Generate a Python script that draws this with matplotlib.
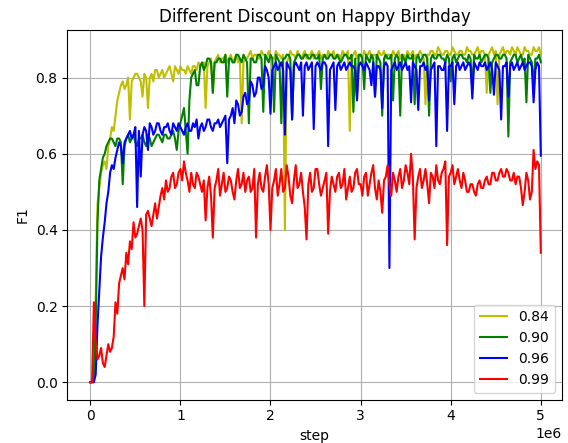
import numpy as np
import matplotlib
matplotlib.use("Agg")
import matplotlib.pyplot as plt

# training steps, one eval every 20k steps
steps = np.arange(251) * 20000

discounts = ["0.84", "0.90", "0.96", "0.99"]
colors = ["y", "g", "b", "r"]

f1_084 = [
    0.00, 0.00, 0.05, 0.22, 0.47, 0.51, 0.55, 0.57, 0.58, 0.56,
    0.62, 0.64, 0.67, 0.66, 0.70, 0.74, 0.76, 0.78, 0.79, 0.77,
    0.78, 0.80, 0.69, 0.79, 0.80, 0.81, 0.81, 0.80, 0.79, 0.75,
    0.81, 0.80, 0.72, 0.80, 0.81, 0.79, 0.82, 0.82, 0.80, 0.81,
    0.82, 0.80, 0.81, 0.82, 0.83, 0.81, 0.79, 0.83, 0.82, 0.81,
    0.83, 0.82, 0.82, 0.81, 0.83, 0.82, 0.81, 0.83, 0.83, 0.82,
    0.84, 0.83, 0.83, 0.84, 0.72, 0.83, 0.84, 0.85, 0.76, 0.84,
    0.85, 0.86, 0.84, 0.85, 0.85, 0.86, 0.84, 0.85, 0.86, 0.84,
    0.85, 0.86, 0.84, 0.85, 0.68, 0.84, 0.85, 0.85, 0.86, 0.87,
    0.85, 0.86, 0.86, 0.85, 0.85, 0.87, 0.86, 0.86, 0.85, 0.87,
    0.86, 0.85, 0.85, 0.87, 0.86, 0.86, 0.85, 0.86, 0.40, 0.84,
    0.85, 0.87, 0.86, 0.86, 0.85, 0.87, 0.86, 0.85, 0.86, 0.87,
    0.85, 0.86, 0.86, 0.87, 0.85, 0.86, 0.86, 0.87, 0.85, 0.86,
    0.86, 0.85, 0.87, 0.86, 0.86, 0.87, 0.85, 0.86, 0.86, 0.85,
    0.87, 0.86, 0.86, 0.87, 0.66, 0.85, 0.86, 0.87, 0.85, 0.86,
    0.86, 0.85, 0.87, 0.86, 0.86, 0.87, 0.85, 0.86, 0.86, 0.85,
    0.87, 0.86, 0.86, 0.87, 0.85, 0.86, 0.86, 0.85, 0.87, 0.86,
    0.86, 0.87, 0.85, 0.86, 0.86, 0.85, 0.87, 0.86, 0.86, 0.87,
    0.85, 0.86, 0.86, 0.87, 0.86, 0.85, 0.73, 0.86, 0.86, 0.87,
    0.87, 0.86, 0.86, 0.88, 0.87, 0.86, 0.86, 0.87, 0.87, 0.86,
    0.86, 0.88, 0.87, 0.86, 0.86, 0.87, 0.87, 0.86, 0.86, 0.88,
    0.87, 0.87, 0.86, 0.86, 0.87, 0.88, 0.86, 0.87, 0.87, 0.86,
    0.76, 0.86, 0.87, 0.88, 0.86, 0.87, 0.73, 0.86, 0.87, 0.88,
    0.86, 0.87, 0.87, 0.86, 0.88, 0.87, 0.86, 0.88, 0.87, 0.86,
    0.86, 0.88, 0.87, 0.87, 0.86, 0.86, 0.88, 0.87, 0.87, 0.88,
    0.86,
]

f1_090 = [
    0.00, 0.00, 0.02, 0.15, 0.42, 0.53, 0.56, 0.59, 0.60, 0.62,
    0.63, 0.64, 0.64, 0.63, 0.62, 0.64, 0.64, 0.63, 0.52, 0.62,
    0.64, 0.65, 0.63, 0.64, 0.65, 0.63, 0.62, 0.64, 0.64, 0.65,
    0.63, 0.62, 0.65, 0.64, 0.62, 0.63, 0.64, 0.65, 0.65, 0.64,
    0.63, 0.65, 0.65, 0.64, 0.64, 0.65, 0.66, 0.64, 0.61, 0.66,
    0.68, 0.70, 0.72, 0.66, 0.60, 0.74, 0.80, 0.81, 0.82, 0.78,
    0.78, 0.83, 0.84, 0.82, 0.83, 0.85, 0.85, 0.84, 0.76, 0.84,
    0.84, 0.85, 0.85, 0.84, 0.84, 0.86, 0.75, 0.85, 0.85, 0.84,
    0.84, 0.86, 0.86, 0.85, 0.84, 0.86, 0.85, 0.84, 0.68, 0.85,
    0.85, 0.84, 0.84, 0.86, 0.86, 0.85, 0.71, 0.86, 0.85, 0.84,
    0.86, 0.85, 0.71, 0.86, 0.85, 0.84, 0.68, 0.85, 0.85, 0.86,
    0.86, 0.85, 0.69, 0.84, 0.85, 0.86, 0.86, 0.85, 0.85, 0.86,
    0.86, 0.85, 0.85, 0.86, 0.86, 0.85, 0.85, 0.86, 0.77, 0.85,
    0.86, 0.85, 0.85, 0.86, 0.86, 0.85, 0.85, 0.86, 0.85, 0.84,
    0.85, 0.86, 0.86, 0.85, 0.85, 0.86, 0.71, 0.85, 0.75, 0.86,
    0.86, 0.85, 0.77, 0.86, 0.85, 0.84, 0.86, 0.85, 0.75, 0.86,
    0.85, 0.84, 0.70, 0.85, 0.86, 0.85, 0.85, 0.86, 0.74, 0.85,
    0.86, 0.85, 0.70, 0.86, 0.85, 0.84, 0.86, 0.85, 0.85, 0.86,
    0.73, 0.85, 0.86, 0.84, 0.85, 0.86, 0.86, 0.85, 0.70, 0.85,
    0.86, 0.85, 0.85, 0.86, 0.86, 0.85, 0.85, 0.84, 0.86, 0.85,
    0.79, 0.85, 0.86, 0.84, 0.85, 0.86, 0.86, 0.85, 0.85, 0.84,
    0.86, 0.85, 0.77, 0.86, 0.85, 0.85, 0.86, 0.84, 0.85, 0.86,
    0.86, 0.85, 0.76, 0.84, 0.85, 0.86, 0.86, 0.85, 0.85, 0.86,
    0.86, 0.85, 0.645, 0.84, 0.85, 0.86, 0.86, 0.84, 0.85, 0.86,
    0.84, 0.85, 0.735, 0.86, 0.85, 0.84, 0.78, 0.85, 0.85, 0.86,
    0.84,
]

f1_096 = [
    0.00, 0.00, 0.00, 0.02, 0.15, 0.24, 0.33, 0.38, 0.42, 0.47,
    0.50, 0.55, 0.57, 0.56, 0.59, 0.61, 0.63, 0.62, 0.575, 0.63,
    0.64, 0.65, 0.66, 0.64, 0.65, 0.67, 0.46, 0.66, 0.54, 0.65,
    0.67, 0.66, 0.61, 0.68, 0.67, 0.65, 0.66, 0.68, 0.68, 0.66,
    0.65, 0.67, 0.67, 0.68, 0.66, 0.65, 0.68, 0.67, 0.66, 0.68,
    0.67, 0.66, 0.65, 0.67, 0.68, 0.66, 0.66, 0.68, 0.67, 0.69,
    0.64, 0.67, 0.68, 0.66, 0.67, 0.69, 0.69, 0.67, 0.66, 0.68,
    0.68, 0.69, 0.67, 0.68, 0.69, 0.70, 0.575, 0.69, 0.70, 0.72,
    0.68, 0.74, 0.73, 0.70, 0.71, 0.75, 0.76, 0.73, 0.74, 0.79,
    0.78, 0.75, 0.76, 0.80, 0.80, 0.77, 0.78, 0.83, 0.82, 0.80,
    0.705, 0.82, 0.83, 0.84, 0.82, 0.83, 0.84, 0.82, 0.65, 0.84,
    0.83, 0.82, 0.69, 0.83, 0.84, 0.83, 0.82, 0.84, 0.70, 0.83,
    0.84, 0.82, 0.83, 0.84, 0.665, 0.83, 0.84, 0.83, 0.82, 0.84,
    0.84, 0.83, 0.62, 0.82, 0.83, 0.84, 0.715, 0.83, 0.84, 0.82,
    0.83, 0.84, 0.82, 0.83, 0.84, 0.83, 0.83, 0.82, 0.74, 0.83,
    0.84, 0.83, 0.82, 0.84, 0.83, 0.82, 0.78, 0.84, 0.75, 0.83,
    0.83, 0.82, 0.72, 0.83, 0.84, 0.83, 0.30, 0.82, 0.83, 0.84,
    0.82, 0.83, 0.84, 0.82, 0.83, 0.84, 0.82, 0.83, 0.735, 0.84,
    0.83, 0.82, 0.715, 0.83, 0.83, 0.84, 0.82, 0.83, 0.74, 0.82,
    0.83, 0.84, 0.62, 0.83, 0.83, 0.82, 0.82, 0.84, 0.66, 0.83,
    0.83, 0.84, 0.73, 0.83, 0.84, 0.82, 0.83, 0.84, 0.82, 0.83,
    0.84, 0.83, 0.745, 0.84, 0.83, 0.82, 0.84, 0.83, 0.83, 0.84,
    0.82, 0.83, 0.84, 0.82, 0.755, 0.84, 0.83, 0.82, 0.69, 0.83,
    0.83, 0.84, 0.75, 0.83, 0.84, 0.82, 0.83, 0.84, 0.82, 0.83,
    0.84, 0.82, 0.83, 0.84, 0.84, 0.83, 0.735, 0.82, 0.84, 0.83,
    0.595,
]

f1_099 = [
    0.00, 0.00, 0.21, 0.11, 0.06, 0.07, 0.09, 0.05, 0.04, 0.07,
    0.10, 0.08, 0.09, 0.12, 0.21, 0.18, 0.26, 0.28, 0.30, 0.27,
    0.34, 0.31, 0.37, 0.35, 0.42, 0.38, 0.39, 0.41, 0.43, 0.40,
    0.20, 0.44, 0.45, 0.43, 0.41, 0.44, 0.47, 0.43, 0.46, 0.49,
    0.51, 0.48, 0.53, 0.50, 0.51, 0.54, 0.55, 0.51, 0.52, 0.55,
    0.56, 0.53, 0.58, 0.55, 0.53, 0.50, 0.55, 0.52, 0.51, 0.55,
    0.54, 0.52, 0.50, 0.53, 0.425, 0.51, 0.54, 0.49, 0.38, 0.51,
    0.53, 0.56, 0.49, 0.52, 0.55, 0.50, 0.51, 0.54, 0.53, 0.50,
    0.48, 0.53, 0.56, 0.51, 0.52, 0.55, 0.50, 0.53, 0.54, 0.50,
    0.51, 0.56, 0.38, 0.52, 0.55, 0.51, 0.50, 0.54, 0.57, 0.52,
    0.40, 0.51, 0.53, 0.56, 0.49, 0.52, 0.56, 0.50, 0.51, 0.57,
    0.54, 0.49, 0.47, 0.53, 0.57, 0.51, 0.52, 0.55, 0.50, 0.46,
    0.375, 0.52, 0.55, 0.50, 0.51, 0.56, 0.56, 0.52, 0.49, 0.51,
    0.53, 0.55, 0.39, 0.50, 0.54, 0.52, 0.50, 0.54, 0.55, 0.51,
    0.52, 0.56, 0.48, 0.51, 0.54, 0.50, 0.51, 0.55, 0.56, 0.52,
    0.52, 0.49, 0.54, 0.55, 0.49, 0.52, 0.55, 0.57, 0.51, 0.48,
    0.53, 0.50, 0.445, 0.53, 0.54, 0.57, 0.52, 0.49, 0.55, 0.53,
    0.50, 0.54, 0.56, 0.51, 0.53, 0.57, 0.55, 0.52, 0.60, 0.54,
    0.375, 0.51, 0.54, 0.56, 0.51, 0.53, 0.56, 0.52, 0.47, 0.55,
    0.54, 0.51, 0.57, 0.53, 0.52, 0.55, 0.56, 0.58, 0.36, 0.54,
    0.55, 0.57, 0.52, 0.54, 0.56, 0.53, 0.51, 0.55, 0.53, 0.50,
    0.50, 0.52, 0.52, 0.50, 0.49, 0.52, 0.53, 0.51, 0.51, 0.53,
    0.54, 0.52, 0.52, 0.55, 0.55, 0.53, 0.53, 0.55, 0.56, 0.54,
    0.54, 0.56, 0.55, 0.53, 0.53, 0.55, 0.52, 0.54, 0.54, 0.51,
    0.465, 0.50, 0.55, 0.53, 0.48, 0.50, 0.61, 0.56, 0.58, 0.57,
    0.34,
]

series = [f1_084, f1_090, f1_096, f1_099]

fig = plt.figure(figsize=(5.68, 4.43), dpi=100)
ax = fig.add_axes([67.3 / 568, 43.5 / 443, 494.5 / 568, 369.2 / 443])

for label, color, vals in zip(discounts, colors, series):
    ax.plot(steps, vals, color=color, label=label)

ax.set_xlim(-0.255e6, 5.233e6)
ax.set_ylim(-0.0453, 0.9242)
ax.set_title("Different Discount on Happy Birthday")
ax.set_xlabel("step")
ax.set_ylabel("F1")
ax.grid(True)
ax.legend(loc="lower right")

fig.savefig("out.png", dpi=100)
plt.close(fig)
